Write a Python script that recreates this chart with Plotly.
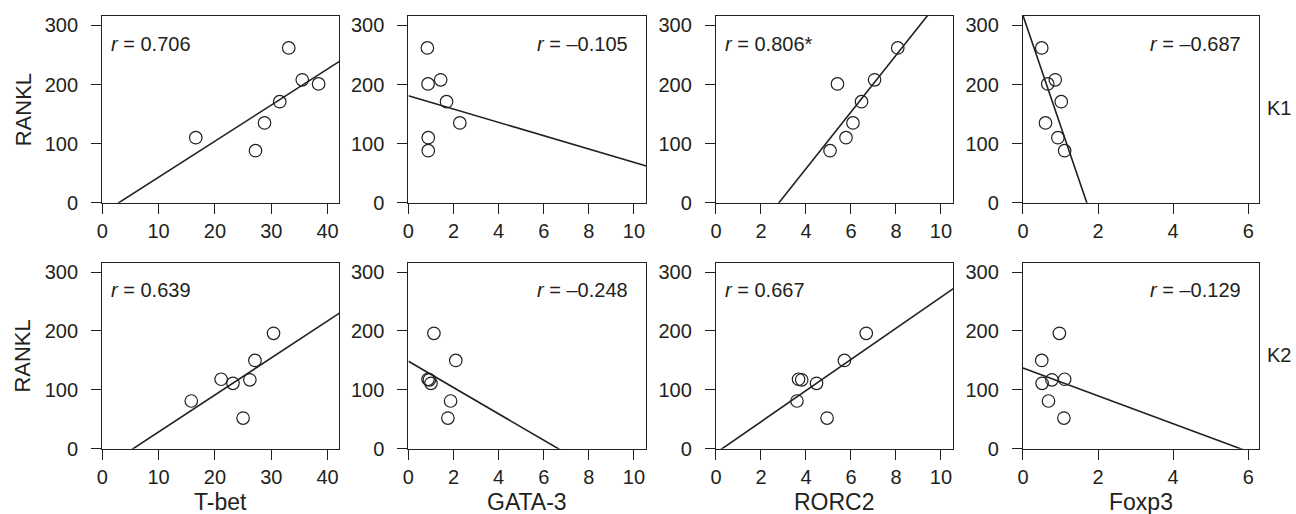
import plotly.graph_objects as go

# ---- data ----
genes = ["T-bet", "GATA-3", "RORC2", "Foxp3"]
groups = ["K1", "K2"]

rankl_k1 = [110, 88, 135, 171, 262, 208, 201]
tbet_k1 = [16.6, 27.2, 28.8, 31.5, 33.1, 35.5, 38.4]
gata3_k1 = [0.88, 0.88, 2.28, 1.69, 0.84, 1.43, 0.87]
rorc2_k1 = [5.78, 5.07, 6.09, 6.47, 8.08, 7.05, 5.40]
foxp3_k1 = [0.93, 1.11, 0.60, 1.02, 0.50, 0.86, 0.66]

rankl_k2 = [81, 118, 111, 52, 117, 150, 196]
tbet_k2 = [15.8, 21.1, 23.2, 25.0, 26.2, 27.1, 30.4]
gata3_k2 = [1.87, 0.87, 1.00, 1.75, 0.93, 2.10, 1.13]
rorc2_k2 = [3.60, 3.67, 4.47, 4.94, 3.81, 5.71, 6.68]
foxp3_k2 = [0.68, 1.11, 0.51, 1.09, 0.77, 0.50, 0.97]

# regression lines (slope, intercept)
slope_k1 = [6.107, -11.26, 47.96, -186.5]
intercept_k1 = [-17.95, 181.0, -134.3, 317.0]
slope_k2 = [6.286, -22.35, 26.44, -23.7]
intercept_k2 = [-34.4, 148.6, -7.1, 137.3]

r_k1 = ["0.706", "–0.105", "0.806*", "–0.687"]
r_k2 = ["0.639", "–0.248", "0.667", "–0.129"]

x_max = [42.1, 10.55, 10.55, 6.3]
x_ticks = [[0, 10, 20, 30, 40], [0, 2, 4, 6, 8, 10], [0, 2, 4, 6, 8, 10], [0, 2, 4, 6]]
y_ticks = [0, 100, 200, 300]
y_max = 316

# ---- layout geometry (positions measured on a 1296 x 514 reference) ----
W, H_REF = 1296, 514
H = 526  # figure height; fractions below are taken from the reference
col_px = [(96.7, 335.0), (404.3, 643.3), (713.3, 951.7), (1021.7, 1259.3)]
row_px = [(15.0, 201.7), (261.7, 447.7)]

INK = "#231f20"
FONT = "Liberation Sans, Arial, Helvetica, sans-serif"

xs = [[tbet_k1, gata3_k1, rorc2_k1, foxp3_k1], [tbet_k2, gata3_k2, rorc2_k2, foxp3_k2]]
ys = [rankl_k1, rankl_k2]
slopes = [slope_k1, slope_k2]
intercepts = [intercept_k1, intercept_k2]
rlabels = [r_k1, r_k2]

fig = go.Figure()
annotations = []
layout_axes = {}

for r in range(2):
    for c in range(4):
        idx = r * 4 + c + 1
        xa = "x" if idx == 1 else f"x{idx}"
        ya = "y" if idx == 1 else f"y{idx}"
        xkey = "xaxis" if idx == 1 else f"xaxis{idx}"
        ykey = "yaxis" if idx == 1 else f"yaxis{idx}"
        x0, x1 = col_px[c]
        t0, t1 = row_px[r]
        common = dict(showgrid=False, zeroline=False, showline=True, mirror=True,
                      linecolor=INK, linewidth=1.3, ticks="outside", ticklen=10,
                      tickwidth=1.3, tickcolor=INK,
                      tickfont=dict(family=FONT, size=20, color=INK))
        layout_axes[xkey] = dict(common, domain=[x0 / W, x1 / W], range=[0, x_max[c]],
                                 tickvals=x_ticks[c], anchor=ya, ticklabelstandoff=0)
        layout_axes[ykey] = dict(common, domain=[1 - t1 / H_REF, 1 - t0 / H_REF],
                                 range=[0, y_max], tickvals=y_ticks, anchor=xa,
                                 ticklabelstandoff=9)

        # regression line across the axis range (clipped by plot area)
        lx = [0, x_max[c]]
        ly = [slopes[r][c] * v + intercepts[r][c] for v in lx]
        fig.add_trace(go.Scatter(x=lx, y=ly, mode="lines", xaxis=xa, yaxis=ya,
                                 line=dict(color=INK, width=1.6), showlegend=False,
                                 hoverinfo="skip"))
        fig.add_trace(go.Scatter(x=xs[r][c], y=ys[r], mode="markers", xaxis=xa, yaxis=ya,
                                 marker=dict(symbol="circle-open", size=12.5,
                                             color=INK, line=dict(width=1.2, color=INK)),
                                 showlegend=False, cliponaxis=False))

        lab = rlabels[r][c]
        neg = lab.startswith("–")
        annotations.append(dict(
            text=f"<i>r</i> = {lab}", xref=f"{xa} domain", yref=f"{ya} domain",
            x=0.93 if neg else 0.03, y=0.852,
            xanchor="right" if neg else "left", yanchor="middle", showarrow=False,
            font=dict(family=FONT, size=20, color=INK)))

# y titles and group labels
for r in range(2):
    t0, t1 = row_px[r]
    annotations.append(dict(text="RANKL", xref="paper", yref="paper", x=17 / W,
                            y=1 - (t0 + t1) / 2 / H_REF, textangle=-90, showarrow=False,
                            xanchor="center", yanchor="middle",
                            font=dict(family=FONT, size=22, color=INK)))
    annotations.append(dict(text=groups[r], xref="paper", yref="paper", x=1293 / W,
                            y=1 - ((t0 + t1) / 2 - 1) / H_REF, showarrow=False,
                            xanchor="right", yanchor="middle",
                            font=dict(family=FONT, size=20, color=INK)))
# x titles
for c in range(4):
    x0, x1 = col_px[c]
    annotations.append(dict(text=genes[c], xref="paper", yref="paper", x=(x0 + x1) / 2 / W,
                            y=1 - 501 / H_REF, showarrow=False, xanchor="center",
                            yanchor="middle", font=dict(family=FONT, size=23, color=INK)))

fig.update_layout(width=W, height=H, autosize=False, margin=dict(l=0, r=0, t=0, b=0),
                  paper_bgcolor="white", plot_bgcolor="white",
                  annotations=annotations, **layout_axes)

fig.write_html(
    "out.html",
    config={"displayModeBar": False, "responsive": False},
    post_script=("document.body.style.margin='0px';"
                 "document.body.style.overflow='hidden';"
                 "document.documentElement.style.overflow='hidden';"),
)
